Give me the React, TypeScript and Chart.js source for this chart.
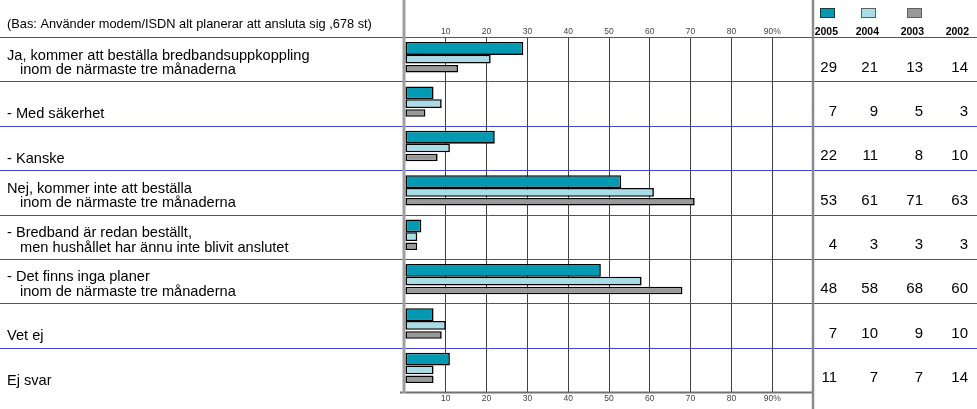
import React, { useEffect, useRef } from "react";
import { Chart, registerables } from "chart.js";

Chart.register(...registerables);

// ---- Data ----
const categories: string[][] = [
  ["Ja, kommer att beställa bredbandsuppkoppling", "inom de närmaste tre månaderna"],
  ["- Med säkerhet"],
  ["- Kanske"],
  ["Nej, kommer inte att beställa", "inom de närmaste tre månaderna"],
  ["- Bredband är redan beställt,", "men hushållet har ännu inte blivit anslutet"],
  ["- Det finns inga planer", "inom de närmaste tre månaderna"],
  ["Vet ej"],
  ["Ej svar"],
];
const years = ["2005", "2004", "2003", "2002"];
const values2005 = [29, 7, 22, 53, 4, 48, 7, 11];
const values2004 = [21, 9, 11, 61, 3, 58, 10, 7];
const values2003 = [13, 5, 8, 71, 3, 68, 9, 7];
const values2002 = [14, 3, 10, 63, 3, 60, 10, 14];
const tableValues = [values2005, values2004, values2003, values2002];
const baseNote = "(Bas: Använder modem/ISDN alt planerar att ansluta sig ,678 st)";

const FONT = "'Liberation Sans', Arial, sans-serif";
const COLORS = ["#0399b2", "#a8dde7", "#999999"];
const CAT_PCT = [0.723, 0.68, 0.642];
const BAR_PCT = [1.21, 0.88, 0.8];
const COL_RIGHT = [837, 878, 923, 968];
const BLUE = "#4444d0";

const tickLabel = (v: number | string) => {
  const n = Number(v);
  if (n === 0 || n === 100) return "";
  if (n === 90) return "90%";
  return String(n);
};

const rowTops = (chart: any) => {
  const { chartArea } = chart;
  const y = chart.scales.y;
  const out: number[] = [];
  for (let i = 0; i < categories.length; i++) {
    out.push(i === 0 ? chartArea.top : (y.getPixelForValue(i - 1) + y.getPixelForValue(i)) / 2);
  }
  return out;
};

const overlay = {
  id: "overlay",
  beforeDraw(chart: any) {
    const { ctx, width, height } = chart;
    ctx.save();
    ctx.fillStyle = "#ffffff";
    ctx.fillRect(0, 0, width, height);
    ctx.restore();
  },
  beforeDatasetsDraw(chart: any) {
    const { ctx, chartArea, width, height } = chart;
    ctx.save();
    // blue row separators
    ctx.strokeStyle = BLUE;
    ctx.lineWidth = 1;
    rowTops(chart).forEach((top) => {
      const yy = Math.round(top) + 0.5;
      ctx.beginPath();
      ctx.moveTo(0, yy);
      ctx.lineTo(width, yy);
      ctx.stroke();
    });
    // bottom border of plot
    ctx.strokeStyle = "#707070";
    ctx.lineWidth = 2;
    ctx.beginPath();
    ctx.moveTo(chartArea.left - 5, chartArea.bottom + 0.5);
    ctx.lineTo(chartArea.right, chartArea.bottom + 0.5);
    ctx.stroke();
    // left grey line
    ctx.strokeStyle = "#a0a0a0";
    ctx.lineWidth = 3;
    ctx.beginPath();
    ctx.moveTo(chartArea.left - 1, 0);
    ctx.lineTo(chartArea.left - 1, chartArea.bottom + 1);
    ctx.stroke();
    // right grey line
    ctx.strokeStyle = "#8a8a8a";
    ctx.lineWidth = 2.5;
    ctx.beginPath();
    ctx.moveTo(chartArea.right, 0);
    ctx.lineTo(chartArea.right, height);
    ctx.stroke();
    ctx.restore();
  },
  afterDraw(chart: any) {
    const { ctx } = chart;
    const bounds = rowTops(chart);
    ctx.save();
    ctx.fillStyle = "#000";
    // header note
    ctx.font = `12.8px ${FONT}`;
    ctx.textBaseline = "alphabetic";
    ctx.textAlign = "left";
    ctx.fillText(baseNote, 7, 28);

    // category labels
    ctx.font = `14.6px ${FONT}`;
    categories.forEach((lines, i) => {
      const base = bounds[i] + 37;
      lines.forEach((line, j) => {
        const yy = base - (lines.length - 1 - j) * 14.5;
        ctx.fillText(line, j === 0 ? 7 : 20, yy);
      });
    });
    // table values
    ctx.font = `15px ${FONT}`;
    ctx.textAlign = "right";
    tableValues.forEach((vals, c) => {
      vals.forEach((v, i) => {
        ctx.fillText(String(v), COL_RIGHT[c], bounds[i] + 34.5);
      });
    });
    // legend swatches + years
    for (let c = 0; c < 3; c++) {
      const x = COL_RIGHT[c] - 17 + (c === 2 ? 1 : 0);
      ctx.fillStyle = COLORS[c];
      ctx.fillRect(x, 8, 15, 10);
      ctx.strokeStyle = c === 0 ? "#1a3a40" : "#606060";
      ctx.lineWidth = 1;
      ctx.strokeRect(x + 0.5, 8.5, 14, 9);
    }
    ctx.fillStyle = "#000";
    ctx.font = `bold 10.5px 'Liberation Sans Narrow', 'Arial Narrow', ${FONT}`;
    years.forEach((yr, c) => {
      ctx.fillText(yr, COL_RIGHT[c] + 1, 35);
    });
    ctx.restore();
  },
};

export default function App() {
  const ref = useRef<HTMLCanvasElement | null>(null);
  useEffect(() => {
    if (!ref.current) return;
    const chart = new Chart(ref.current, {
      type: "bar",
      data: {
        labels: categories.map((c) => c.join(" ")),
        datasets: [values2005, values2004, values2003].map((vals, i) => ({
          label: years[i],
          data: vals,
          backgroundColor: COLORS[i],
          borderColor: "#000000",
          borderWidth: 1.6,
          borderSkipped: false,
          barPercentage: BAR_PCT[i],
          categoryPercentage: CAT_PCT[i],
        })),
      },
      plugins: [overlay],
      options: {
        indexAxis: "y",
        responsive: false,
        maintainAspectRatio: false,
        devicePixelRatio: 1,
        animation: false,
        layout: { padding: { left: 405, right: 164, top: 25, bottom: 5 } },
        plugins: { legend: { display: false }, tooltip: { enabled: false } },
        scales: {
          y: {
            type: "category",
            offset: true,
            grid: { display: false },
            ticks: { display: false },
            border: { display: false },
            afterFit: (s: any) => {
              s.width = 0;
            },
          },
          x: {
            type: "linear",
            position: "top",
            min: 0,
            max: 100,
            ticks: {
              stepSize: 10,
              callback: tickLabel,
              font: { size: 8.5, family: FONT },
              color: "#444",
              padding: 0,
              maxRotation: 0,
              autoSkip: false,
            },
            grid: {
              drawTicks: false,
              color: (c: any) =>
                c.tick && (c.tick.value === 0 || c.tick.value === 100) ? "rgba(0,0,0,0)" : "#404040",
              lineWidth: 1,
            },
            border: { display: false },
            afterFit: (s: any) => {
              s.height = 12;
            },
          },
          x2: {
            type: "linear",
            position: "bottom",
            min: 0,
            max: 100,
            ticks: {
              stepSize: 10,
              callback: tickLabel,
              font: { size: 8.5, family: FONT },
              color: "#444",
              padding: 2,
              maxRotation: 0,
              autoSkip: false,
            },
            grid: { display: false, drawTicks: false },
            border: { display: false },
            afterFit: (s: any) => {
              s.height = 12;
            },
          },
        },
      } as any,
    });
    return () => chart.destroy();
  }, []);
  return (
    <div style={{ position: "absolute", left: 0, top: 0, width: 977, height: 409 }}>
      <canvas ref={ref} width={977} height={409} style={{ width: 977, height: 409, display: "block" }} />
    </div>
  );
}
